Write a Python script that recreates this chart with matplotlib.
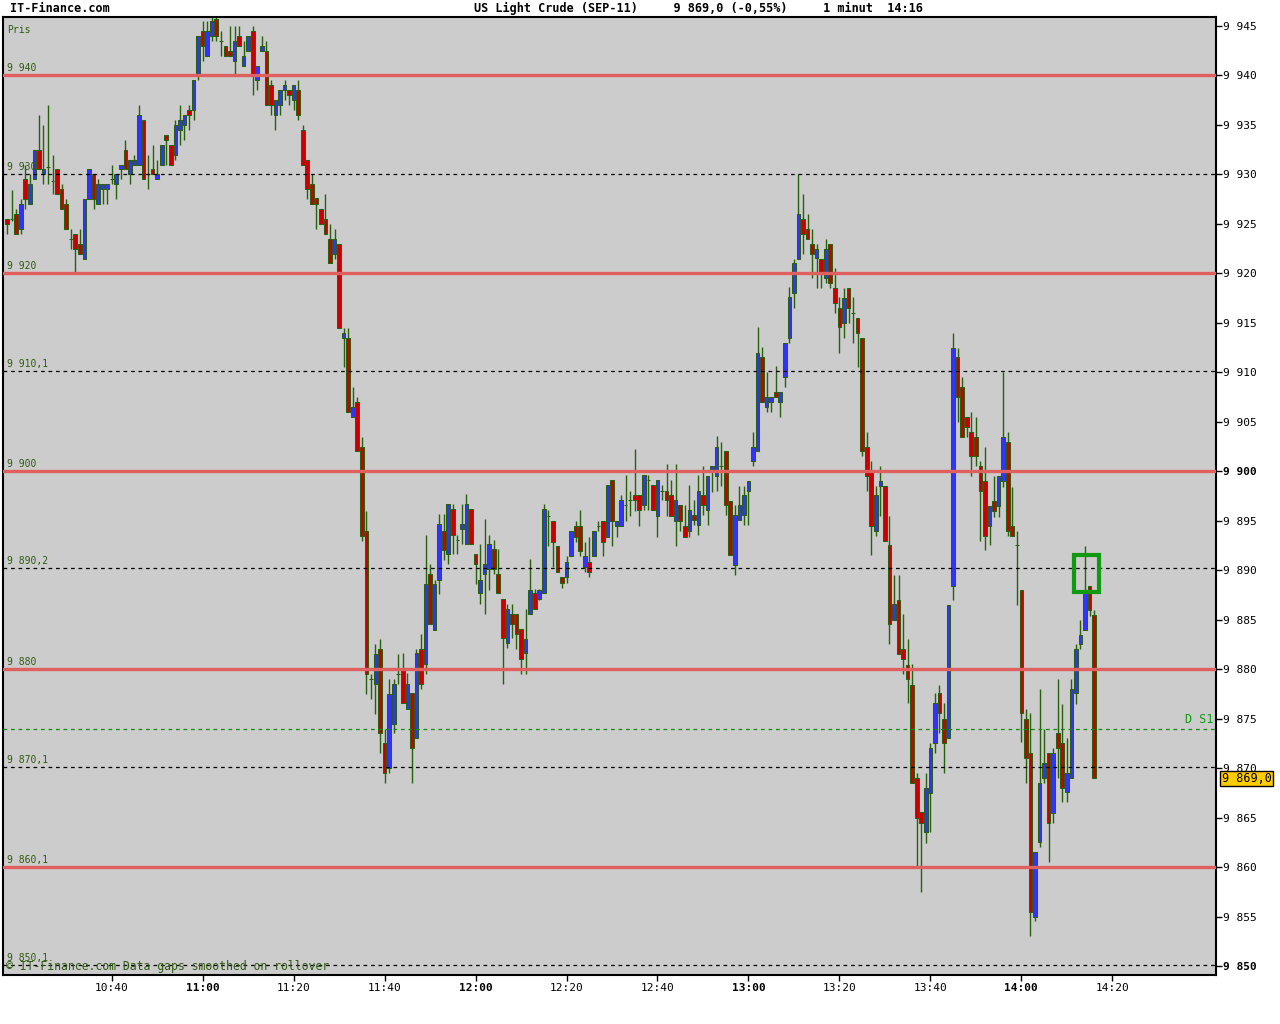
import numpy as np
import matplotlib.pyplot as plt
from matplotlib.patches import Rectangle

# 1-minute candles, first one at 10:17, last at 14:16
opens = [9925.5, 9925.5, 9926, 9924.5, 9929.5, 9927, 9929.5, 9932.5, 9930, 9930.7,
         9929.3, 9930.5, 9928.5, 9927, 9923.5, 9924, 9923, 9921.5, 9927.5, 9930,
         9927, 9928.5, 9928.5, 9929.5, 9929, 9930.5, 9932.5, 9930, 9931, 9931,
         9935.5, 9930, 9930.5, 9929.5, 9931, 9934, 9933, 9932, 9934.5, 9935,
         9936.5, 9936.5, 9940, 9944.5, 9942, 9944, 9945.7, 9943.5, 9943, 9942.5,
         9941.5, 9944, 9941, 9942.5, 9944.5, 9939.5, 9942.5, 9942.5, 9939, 9936,
         9937, 9938.5, 9938.5, 9937.5, 9938.5, 9934.5, 9931.5, 9929, 9927.6, 9926.5,
         9925.5, 9923.5, 9922, 9923, 9913.5, 9913.5, 9905.5, 9907, 9902.5, 9894,
         9879, 9878.5, 9882, 9872.5, 9870, 9874.5, 9879.5, 9880, 9876, 9877.6,
         9873, 9882, 9880.5, 9889.6, 9884, 9889, 9894, 9891.6, 9896.2, 9893.1,
         9894.2, 9892.6, 9896.2, 9891.6, 9887.7, 9889.6, 9890.1, 9892.1, 9889.6, 9887.1,
         9882.6, 9885.6, 9885.6, 9884.1, 9881.6, 9885.6, 9887.7, 9887.1, 9887.7, 9895.5,
         9895, 9892.4, 9889.3, 9889.3, 9891.4, 9894.5, 9894.5, 9890.3, 9890.8, 9891.4,
         9894.5, 9895, 9893.4, 9899.1, 9894.5, 9894.5, 9896.6, 9897.1, 9897.6, 9897.6,
         9896.6, 9899.1, 9898.6, 9895.5, 9898, 9898, 9897.6, 9895, 9896.6, 9894.5,
         9894, 9895.6, 9894.6, 9897.6, 9896.1, 9900, 9899.5, 9900.5, 9902, 9897,
         9890.5, 9895.1, 9895.6, 9898, 9901, 9902, 9911.5, 9906.5, 9907, 9908,
         9907, 9909.5, 9913.5, 9918, 9921.5, 9925.5, 9924.5, 9923, 9921.6, 9921.5,
         9919.5, 9923, 9918.5, 9916.5, 9915, 9918.5, 9916, 9915.5, 9913.5, 9902.5,
         9900, 9894, 9898.5, 9898.5, 9892.5, 9885, 9887, 9882, 9880.4, 9878.4,
         9869, 9865.6, 9863.5, 9867.5, 9872.5, 9877.6, 9875, 9873, 9888.4, 9911.5,
         9908.5, 9905.5, 9904, 9903.5, 9900.5, 9899, 9894.5, 9897, 9896.5, 9899,
         9903, 9894.5, 9892.5, 9888, 9875, 9871.5, 9855, 9862.5, 9869, 9871.5,
         9865.5, 9873.5, 9872.5, 9867.6, 9869, 9877.6, 9882.5, 9884, 9888.4, 9885.5]
highs = [9925.5, 9928.4, 9926.5, 9927.5, 9931, 9930, 9932.5, 9936, 9935, 9937,
         9932, 9930.5, 9929, 9927.5, 9924.5, 9924, 9924.5, 9927.5, 9930.5, 9930,
         9929.5, 9929, 9929, 9931, 9930, 9931, 9933.5, 9931.5, 9932, 9937,
         9935.5, 9932, 9933, 9931.5, 9933, 9934, 9933, 9935.5, 9937, 9936,
         9937, 9939.5, 9944, 9945.5, 9945.5, 9946, 9946, 9944.5, 9943, 9945,
         9945, 9945, 9943.5, 9944, 9945, 9941, 9944, 9943.5, 9939.5, 9937.5,
         9938.5, 9939.5, 9938.5, 9939, 9939.5, 9935, 9931.5, 9930, 9927.6, 9926.5,
         9928, 9925, 9924.5, 9923, 9914.5, 9914.5, 9908.5, 9907.5, 9903.5, 9896,
         9879.5, 9882.5, 9883, 9874, 9879, 9879, 9881.5, 9881.6, 9879.6, 9877.6,
         9882, 9883.6, 9893.6, 9890.6, 9889, 9895.7, 9895.7, 9896.7, 9896.7, 9893.6,
         9896.7, 9897.7, 9896.2, 9891.6, 9892.6, 9895.2, 9893.6, 9893.1, 9892.1, 9887.1,
         9886.6, 9886.6, 9885.6, 9884.1, 9886.1, 9891.1, 9888.1, 9888.1, 9896.7, 9896.1,
         9895, 9892.4, 9889.3, 9891.4, 9894, 9895, 9896.1, 9892.9, 9893.4, 9894,
         9895, 9895, 9898.6, 9899.1, 9895, 9897.6, 9899.6, 9898, 9902.2, 9897.6,
         9899.6, 9899.6, 9898.6, 9899.1, 9898.6, 9900.7, 9899.1, 9900.7, 9896.6, 9896.6,
         9898.6, 9897.1, 9899.6, 9900.5, 9899.5, 9900.5, 9903.6, 9903, 9902, 9897,
         9896.6, 9898.5, 9898.5, 9899, 9904, 9914.6, 9912.6, 9910, 9907.5, 9910.6,
         9908, 9913, 9918.6, 9921.5, 9930, 9928, 9926, 9924.5, 9923, 9921.5,
         9923.5, 9923, 9920.5, 9917.6, 9918.5, 9918.5, 9917.6, 9915.5, 9913.5, 9904,
         9901, 9898.5, 9900.5, 9898.5, 9895.5, 9889.5, 9889.5, 9885.6, 9883, 9880.5,
         9869.5, 9865.6, 9869.5, 9872.5, 9877.6, 9878.4, 9876.6, 9886.5, 9914, 9912.5,
         9909.5, 9905.5, 9906, 9905.5, 9901, 9902.5, 9896.5, 9899.5, 9899.5, 9910,
         9904, 9898.4, 9894, 9888, 9876, 9875.6, 9861.5, 9878, 9874, 9871.5,
         9872, 9879, 9876.5, 9873, 9879, 9882.5, 9885, 9892.4, 9888.4, 9886]
lows = [9924, 9925.3, 9924, 9924, 9926.5, 9927, 9929.5, 9930.5, 9929, 9929,
        9928, 9928, 9926.5, 9924.5, 9922.5, 9920, 9922, 9921.5, 9927.5, 9926.5,
        9927, 9927, 9927, 9929, 9927.5, 9929.5, 9930.5, 9929, 9931, 9931,
        9929.5, 9928.5, 9930, 9929.5, 9931, 9931, 9931, 9931.5, 9933, 9933.5,
        9934.5, 9935.5, 9939.5, 9941.5, 9942, 9943.5, 9943.5, 9942, 9942, 9942,
        9940, 9943, 9941, 9942.5, 9938, 9938.5, 9942.5, 9937, 9936, 9934.5,
        9936, 9937.5, 9937, 9936.5, 9935.5, 9931, 9927.5, 9927, 9924.5, 9925,
        9924, 9921, 9921.5, 9914.5, 9910.5, 9906, 9905.5, 9902, 9893, 9877.5,
        9877, 9875.5, 9871.5, 9868.5, 9869.5, 9873.5, 9878.5, 9876.6, 9876, 9868.5,
        9873, 9878, 9879.5, 9884.6, 9884, 9887.6, 9891, 9890.6, 9891.6, 9891.6,
        9892.6, 9892.6, 9892.6, 9888.6, 9886.6, 9885.6, 9888, 9889.6, 9887.7, 9878.5,
        9882.1, 9883.1, 9882, 9879.5, 9879.5, 9885.6, 9886.1, 9887, 9887.7, 9892.4,
        9890.3, 9889.8, 9888.2, 9888.7, 9891.4, 9892.9, 9891.4, 9889.8, 9889.3, 9891.4,
        9894, 9891.4, 9893.4, 9892.4, 9893.4, 9894.5, 9895, 9895.5, 9896, 9894.5,
        9896.1, 9896.1, 9896.1, 9893.4, 9897.1, 9895.5, 9895.5, 9892.4, 9894, 9893.4,
        9893.4, 9894.6, 9893.6, 9895.6, 9894.6, 9897.9, 9898, 9898.5, 9895.6, 9891.5,
        9889.5, 9895.1, 9894.6, 9894.6, 9900.5, 9902, 9907, 9906, 9906, 9907.5,
        9905.5, 9908.5, 9913, 9916.5, 9921.5, 9922, 9923.5, 9919.5, 9918.5, 9918.5,
        9919, 9918.5, 9916, 9912, 9913.5, 9915, 9913, 9910.5, 9901.5, 9898,
        9891.5, 9893.5, 9895.5, 9893, 9882.5, 9885, 9881.5, 9879.5, 9876.6, 9868.5,
        9860.1, 9857.5, 9862.4, 9863.5, 9871.5, 9873.5, 9869.5, 9873, 9887, 9905,
        9903.5, 9903.5, 9899.5, 9900.5, 9893, 9892, 9892.5, 9895.4, 9895.4, 9898.4,
        9893.5, 9893.5, 9886.5, 9872.6, 9868.5, 9853, 9854.5, 9862, 9868.5, 9860.5,
        9864.5, 9869, 9866.6, 9866.6, 9869, 9876.5, 9882, 9884, 9885.4, 9869]
closes = [9925, 9925.5, 9924, 9927, 9927.5, 9929, 9932.5, 9930.5, 9930.5, 9930.7,
          9929.3, 9928, 9926.5, 9924.5, 9923.5, 9922.5, 9922, 9927.5, 9930.5, 9927.5,
          9929, 9929, 9929, 9929.5, 9930, 9931, 9930.5, 9931.5, 9931.5, 9936,
          9929.5, 9930, 9930, 9930, 9933, 9933.5, 9931, 9935, 9935.5, 9936,
          9936, 9939.5, 9944, 9943, 9944.5, 9945.5, 9944, 9943.5, 9942, 9942,
          9943.5, 9943, 9942, 9944, 9940, 9941, 9943, 9937, 9937, 9937.5,
          9938.5, 9939, 9938, 9939, 9936, 9931, 9928.5, 9927, 9927, 9925,
          9924, 9921, 9923.5, 9914.5, 9914, 9906, 9906.5, 9902, 9893.5, 9879.5,
          9879, 9881.5, 9873.5, 9869.5, 9877.5, 9878.5, 9879.5, 9876.6, 9878.5, 9872,
          9881.6, 9878.5, 9888.6, 9884.6, 9888.6, 9894.7, 9892, 9896.7, 9893.6, 9893.1,
          9894.7, 9896.7, 9892.6, 9890.6, 9889, 9890.6, 9892.6, 9890.1, 9887.7, 9883.1,
          9886.1, 9884.6, 9883.6, 9881, 9883, 9888, 9886.1, 9888, 9896.2, 9895.5,
          9892.9, 9889.8, 9888.7, 9890.8, 9894, 9893.4, 9891.9, 9891.4, 9889.8, 9894,
          9894.5, 9892.9, 9898.6, 9895, 9895, 9897.1, 9896.6, 9897.1, 9897.1, 9896.1,
          9899.6, 9899.1, 9896.1, 9899.1, 9898, 9897.1, 9895.5, 9897.1, 9895, 9893.4,
          9896.1, 9895.1, 9898, 9896.6, 9899.5, 9900.5, 9902.5, 9900.5, 9896.6, 9891.5,
          9895.6, 9896.6, 9897.6, 9899, 9902.5, 9912, 9907, 9907.5, 9907.5, 9907.5,
          9908, 9913, 9917.6, 9921, 9926, 9924, 9923.5, 9922, 9922.5, 9920,
          9922.5, 9919, 9917, 9914.6, 9917.5, 9916.5, 9916, 9914, 9902, 9899.5,
          9894.5, 9897.6, 9899, 9893, 9884.6, 9886.6, 9881.5, 9881, 9879, 9868.5,
          9865, 9864.5, 9868, 9872, 9876.6, 9875.6, 9872.5, 9886.5, 9912.5, 9907.5,
          9903.5, 9904.5, 9901.5, 9901.5, 9898, 9893.5, 9896.5, 9896, 9899.5, 9903.5,
          9894, 9893.5, 9892.5, 9875.6, 9871, 9855.5, 9861.5, 9868.5, 9870.5, 9864.5,
          9871.5, 9872, 9868, 9869.5, 9878, 9882, 9883.5, 9888, 9886, 9869]

# time axis: minute index counted from 10:17
tick_pos = [23, 43, 63, 83, 103, 123, 143, 163, 183, 203, 223, 243]
tick_labels = ["10:40", "11:00", "11:20", "11:40", "12:00", "12:20",
               "12:40", "13:00", "13:20", "13:40", "14:00", "14:20"]

red_levels = [9940, 9920, 9900, 9880, 9860]
red_names = ["9 940", "9 920", "9 900", "9 880", "9 860,1"]
dash_levels = [9930, 9910.1, 9890.2, 9870.1, 9850.1]
dash_names = ["9 930", "9 910,1", "9 890,2", "9 870,1", "9 850,1"]
ds1_level = 9874
last_price = 9869.0
box_x = (234.6, 240.1)
box_y = (9887.8, 9891.5)

mono = "DejaVu Sans Mono"
wick_col = "#286010"
txt_green = "#2f5a10"

fig = plt.figure(figsize=(12.8, 10.24), dpi=100)
ax = fig.add_axes([3 / 1280, 49 / 1024, 1213 / 1280, 958 / 1024])
ax.set_facecolor("#cccccc")

idx = np.arange(len(opens))
o = np.array(opens)
c = np.array(closes)
body_low = np.minimum(o, c)
body_h = np.abs(c - o)
cols = np.where(c > o, "#3333ff", "#cc0000")

ax.vlines(idx, lows, highs, color=wick_col, lw=1.0, zorder=2)
ax.bar(idx, body_h, bottom=body_low, width=0.8, color=cols,
       edgecolor=wick_col, linewidth=0.75, zorder=3)

for lv in red_levels:
    ax.axhline(lv, color="#e06060", lw=2.4, zorder=4)
for lv in dash_levels:
    ax.axhline(lv, color="black", lw=0.9, ls=(0, (3, 3)), zorder=4)
ax.axhline(ds1_level, color="#118811", lw=0.9, ls=(0, (3, 3)), zorder=4)

for lv, name in zip(red_levels + dash_levels, red_names + dash_names):
    ax.text(0.0, lv + 0.25, name, fontsize=7, family=mono, color=txt_green,
            va="bottom", ha="left", zorder=5)
ax.text(0.0, 9944.6, "Pris", fontsize=7, family=mono, color=txt_green,
        va="center", ha="left", zorder=5)
ax.text(265.3, ds1_level + 0.3, "D S1", fontsize=8.5, family=mono,
        color="#119911", va="bottom", ha="right", zorder=5)
ax.text(-0.3, 9849.9, "\u00a9 IT-Finance.com Data gaps smoothed on rollover",
        fontsize=8.3, family=mono, color=txt_green, va="center", ha="left",
        zorder=5)

ax.add_patch(Rectangle((box_x[0], box_y[0]), box_x[1] - box_x[0],
                       box_y[1] - box_y[0], fill=False, edgecolor="#119911",
                       lw=3, zorder=6))

ax.set_xlim(-0.9, 265.8)
ax.set_ylim(9849.09, 9945.91)

ax.set_xticks(tick_pos)
ax.set_xticklabels(tick_labels, family=mono, fontsize=8)
for lab in ax.get_xticklabels():
    if lab.get_text().endswith(":00"):
        lab.set_fontweight("bold")

yt = np.arange(9850, 9946, 5)
ax.yaxis.tick_right()
ax.set_yticks(yt)
ax.set_yticklabels(["9 %03d" % (v - 9000) for v in yt], family=mono, fontsize=8)
for lab in ax.get_yticklabels():
    if lab.get_text() in ("9 900", "9 850"):
        lab.set_fontweight("bold")
ax.tick_params(axis="both", direction="out", length=4, width=1, pad=2,
               colors="black")
ax.tick_params(axis="y", pad=1)

for sp in ax.spines.values():
    sp.set_linewidth(1.5)

ax.annotate("9 869,0", xy=(1.0, last_price),
            xycoords=("axes fraction", "data"),
            xytext=(4, -0.5), textcoords="offset points", fontsize=8.5,
            family=mono, va="center", ha="left", annotation_clip=False,
            bbox=dict(boxstyle="square,pad=0.1", fc="#ffcc00", ec="black",
                      lw=1))

fig.text(10 / 1280, 1 - 8 / 1024, "IT-Finance.com", fontsize=8.5,
         family=mono, weight="bold", va="center", ha="left")
fig.text(474 / 1280, 1 - 8 / 1024,
         "US Light Crude (SEP-11)     9 869,0 (-0,55%)     1 minut  14:16",
         fontsize=8.5, family=mono, weight="bold", va="center", ha="left")

fig.savefig("out.png", dpi=100)
